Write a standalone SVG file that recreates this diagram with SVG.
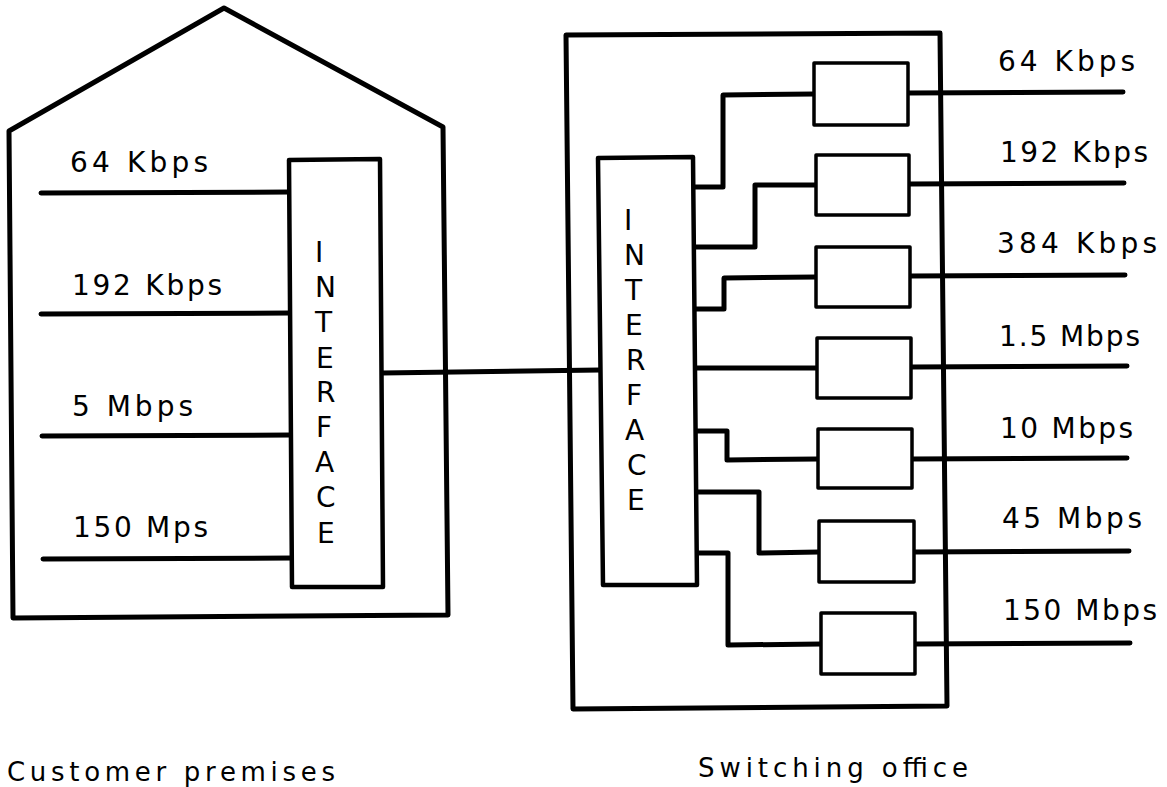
<svg xmlns="http://www.w3.org/2000/svg" width="1167" height="787" viewBox="0 0 1167 787">
<style>
  .outline { fill: none; stroke: #000; stroke-width: 5; stroke-linejoin: round; }
  .box { fill: #fff; stroke: #000; stroke-width: 3.5; stroke-linejoin: round; }
  .iface { fill: #fff; stroke: #000; stroke-width: 4.5; stroke-linejoin: round; }
  .wire { fill: none; stroke: #000; stroke-width: 5; stroke-linecap: round; stroke-linejoin: round; }
  .lbl { font-family: "DejaVu Sans", "Liberation Sans", sans-serif; font-size: 28px; fill: #000; }
  .cap { font-family: "DejaVu Sans", "Liberation Sans", sans-serif; font-size: 26px; fill: #000; }
  .vt { font-family: "DejaVu Sans", "Liberation Sans", sans-serif; font-size: 28px; fill: #000; }
</style>

<g id="customer-premises">
  <polygon class="outline" points="224,8 443,127 448,615 13,618 9,131"/>
</g>

<g id="switching-office">
  <polygon class="outline" stroke-width="5.5" points="566,35 940,33 947,706 573,709"/>
</g>

<g id="connectors">
  <line class="wire" x1="41" y1="193" x2="290" y2="192"/>
  <line class="wire" x1="41" y1="314" x2="290" y2="313"/>
  <line class="wire" x1="42" y1="436" x2="291" y2="435"/>
  <line class="wire" x1="43" y1="559" x2="292" y2="558"/>
  <line class="wire" x1="382" y1="373" x2="600" y2="370"/>
  <polyline class="wire" stroke-width="6" points="695,187 723,187 723,95 814,94"/>
  <polyline class="wire" points="695,247 755,247 755,185 816,185"/>
  <polyline class="wire" points="695,309 724,309 724,278 816,277"/>
  <polyline class="wire" points="696,368 817,368"/>
  <polyline class="wire" points="696,431 727,431 727,460 818,459"/>
  <polyline class="wire" points="696,492 759,492 759,553 819,552"/>
  <polyline class="wire" points="697,553 728,553 728,645 821,644"/>
  <line class="wire" x1="908" y1="93" x2="1123" y2="92"/>
  <line class="wire" x1="909" y1="184" x2="1124" y2="183"/>
  <line class="wire" x1="910" y1="276" x2="1125" y2="275"/>
  <line class="wire" x1="911" y1="367" x2="1127" y2="366"/>
  <line class="wire" x1="912" y1="459" x2="1127" y2="458"/>
  <line class="wire" x1="914" y1="552" x2="1129" y2="551"/>
  <line class="wire" x1="915" y1="644" x2="1130" y2="643"/>
</g>

<g id="customer-interface">
  <polygon class="iface" points="289,160 380,159 383,587 292,587"/>
  <text class="vt" x="315" y="262">I</text>
  <text class="vt" x="315" y="297">N</text>
  <text class="vt" x="315" y="332">T</text>
  <text class="vt" x="316" y="368">E</text>
  <text class="vt" x="316" y="402">R</text>
  <text class="vt" x="316" y="437">F</text>
  <text class="vt" x="315" y="472">A</text>
  <text class="vt" x="316" y="507">C</text>
  <text class="vt" x="317" y="543">E</text>
</g>

<g id="office-interface">
  <polygon class="iface" points="598,158 693,157 697,585 603,585"/>
  <text class="vt" x="624" y="230">I</text>
  <text class="vt" x="624" y="265">N</text>
  <text class="vt" x="625" y="300">T</text>
  <text class="vt" x="625" y="335">E</text>
  <text class="vt" x="626" y="370">R</text>
  <text class="vt" x="626" y="405">F</text>
  <text class="vt" x="625" y="440">A</text>
  <text class="vt" x="627" y="475">C</text>
  <text class="vt" x="627" y="510">E</text>
</g>

<g id="channel-64k"><rect class="box" x="814" y="63" width="94" height="62"/></g>
<g id="channel-192k"><rect class="box" x="816" y="155" width="93" height="60"/></g>
<g id="channel-384k"><rect class="box" x="816" y="247" width="94" height="60"/></g>
<g id="channel-1-5m"><rect class="box" x="817" y="338" width="94" height="60"/></g>
<g id="channel-10m"><rect class="box" x="818" y="429" width="94" height="59"/></g>
<g id="channel-45m"><rect class="box" x="819" y="521" width="95" height="61"/></g>
<g id="channel-150m"><rect class="box" x="821" y="613" width="94" height="61"/></g>

<g id="labels">
  <text class="lbl" x="70" y="172" textLength="138" lengthAdjust="spacing">64 Kbps</text>
  <text class="lbl" x="72" y="295" textLength="150" lengthAdjust="spacing">192 Kbps</text>
  <text class="lbl" x="72" y="416" textLength="121" lengthAdjust="spacing">5 Mbps</text>
  <text class="lbl" x="73" y="537" textLength="135" lengthAdjust="spacing">150 Mps</text>

  <text class="lbl" x="998" y="71" textLength="137" lengthAdjust="spacing">64 Kbps</text>
  <text class="lbl" x="1000" y="162" textLength="148" lengthAdjust="spacing">192 Kbps</text>
  <text class="lbl" x="997" y="253" textLength="160" lengthAdjust="spacing">384 Kbps</text>
  <text class="lbl" x="999" y="346" textLength="141" lengthAdjust="spacing">1.5 Mbps</text>
  <text class="lbl" x="1000" y="438" textLength="133" lengthAdjust="spacing">10 Mbps</text>
  <text class="lbl" x="1002" y="528" textLength="140" lengthAdjust="spacing">45 Mbps</text>
  <text class="lbl" x="1003" y="620" textLength="154" lengthAdjust="spacing">150 Mbps</text>

  <text class="cap" x="7" y="781" textLength="328" lengthAdjust="spacing">Customer premises</text>
  <text class="cap" x="698" y="777" textLength="270" lengthAdjust="spacing">Switching office</text>
</g>
</svg>
